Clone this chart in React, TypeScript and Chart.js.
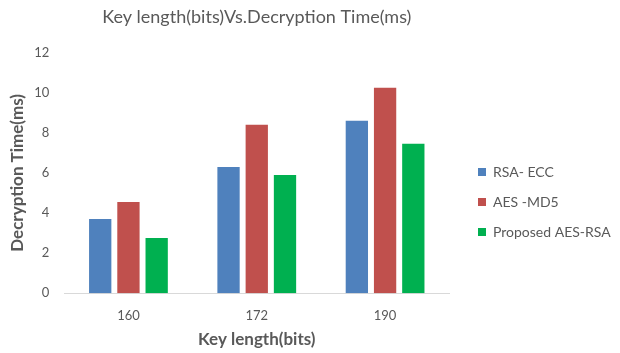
import React, { useEffect, useRef } from "react";
import { Chart, registerables } from "chart.js";

Chart.register(...registerables);

const categories = ["160", "172", "190"];
const rsaEcc = [3.7, 6.3, 8.6];
const aesMd5 = [4.55, 8.4, 10.25];
const proposedAesRsa = [2.75, 5.9, 7.45];
const seriesNames = ["RSA- ECC", "AES -MD5", "Proposed AES-RSA"];
const yTicks = [0, 2, 4, 6, 8, 10, 12];

const FONT = "Lato, 'Open Sans', sans-serif";
const TEXT = "#595959";

const LEGEND_BOX_X = 478;
const LEGEND_FIRST_CENTER_Y = 172;

const legendShift = {
  id: "legendShift",
  afterInit(chart: any) {
    const lg = chart.legend;
    if (!lg) return;
    const draw = lg.draw.bind(lg);
    lg.draw = function () {
      const pad = this.options.labels.padding;
      const fontSize = this.options.labels.font.size;
      const dx = LEGEND_BOX_X - (this.left + pad);
      const dy = LEGEND_FIRST_CENTER_Y - (this.top + pad + fontSize / 2);
      const c = this.ctx;
      c.save();
      c.translate(dx, dy);
      draw();
      c.restore();
    };
  },
};

export default function App() {
  const ref = useRef<HTMLCanvasElement | null>(null);
  useEffect(() => {
    if (!ref.current) return;
    const chart = new Chart(ref.current, {
      type: "bar",
      data: {
        labels: categories,
        datasets: [
          { label: seriesNames[0], data: rsaEcc, backgroundColor: "#4F81BD" },
          { label: seriesNames[1], data: aesMd5, backgroundColor: "#C0504D" },
          { label: seriesNames[2], data: proposedAesRsa, backgroundColor: "#00B050" },
        ],
      },
      plugins: [legendShift],
      options: {
        animation: false,
        responsive: false,
        maintainAspectRatio: false,
        devicePixelRatio: 1,
        datasets: {
          bar: { barPercentage: 0.79, categoryPercentage: 0.66 },
        } as any,
        layout: { padding: { left: 0, right: 21, top: 0, bottom: 0 } },
        plugins: {
          title: {
            display: true,
            text: "Key length(bits)Vs.Decryption Time(ms)",
            color: TEXT,
            fullSize: false,
            font: { family: FONT, size: 18, weight: "normal" },
            padding: { top: 6, bottom: 25 },
          },
          legend: {
            display: true,
            position: "right",
            align: "start",
            labels: {
              boxWidth: 8,
              boxHeight: 8,
              padding: 16,
              color: TEXT,
              font: { family: FONT, size: 14 },
            },
          },
          tooltip: { enabled: false },
        },
        scales: {
          x: {
            grid: { display: false, drawTicks: false },
            border: { display: true, color: "#D9D9D9", width: 1 },
            ticks: { color: TEXT, font: { family: FONT, size: 13 }, padding: 14.5 },
            title: {
              display: true,
              text: "Key length(bits)",
              color: TEXT,
              font: { family: FONT, size: 17, weight: "bold" },
              padding: { top: -8, bottom: 2.8 },
            },
          },
          y: {
            min: yTicks[0],
            max: yTicks[yTicks.length - 1],
            afterBuildTicks: (axis: any) => {
              axis.ticks = yTicks.map((v) => ({ value: v }));
            },
            grid: { display: false, drawTicks: false },
            border: { display: false },
            ticks: { color: TEXT, font: { family: FONT, size: 13 }, padding: 15 },
            title: {
              display: true,
              text: "Decryption Time(ms)",
              color: TEXT,
              font: { family: FONT, size: 17, weight: "bold" },
              padding: { top: 7.8, bottom: -9 },
            },
          },
        },
      },
    });
    return () => chart.destroy();
  }, []);
  return (
    <div style={{ position: "fixed", left: 0, top: 0, width: 620, height: 353, background: "#fff" }}>
      <canvas ref={ref} width={620} height={353} style={{ width: 620, height: 353 }} />
    </div>
  );
}
